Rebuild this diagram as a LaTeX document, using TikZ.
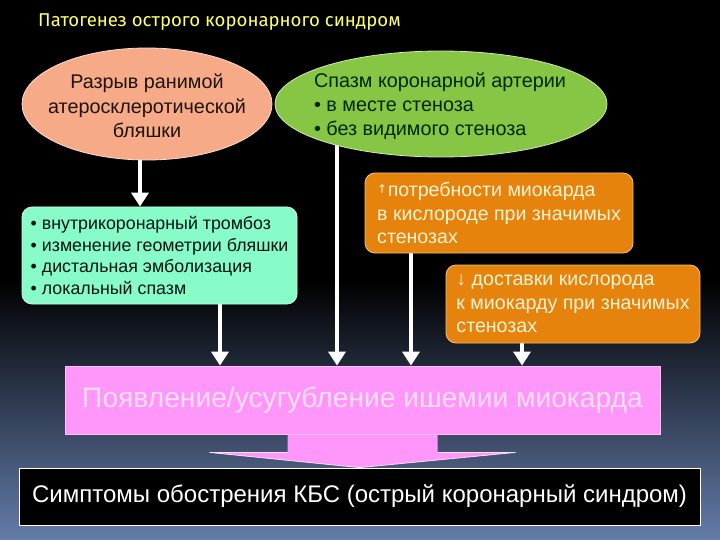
\documentclass[tikz,border=0pt]{standalone}
\usepackage{fontspec}
\setmainfont{Liberation Sans}
\newfontfamily\titlefont{Fira Sans}
\newfontfamily\arrfont{DejaVu Sans}
\usetikzlibrary{arrows.meta,shapes.geometric,calc}
\pgfdeclarelayer{back}
\pgfdeclarelayer{arrlayer}
\pgfsetlayers{back,arrlayer,main}
\definecolor{bgblue}{RGB}{100,124,170}
\definecolor{salmonc}{RGB}{246,170,135}
\definecolor{greenc}{RGB}{135,198,68}
\definecolor{tealc}{RGB}{135,252,200}
\definecolor{orangec}{RGB}{230,131,12}
\definecolor{pinkc}{RGB}{255,150,250}
\definecolor{pinktxt}{RGB}{255,222,255}
\definecolor{creamtxt}{RGB}{255,244,212}
\definecolor{titley}{RGB}{255,255,102}
\begin{document}
\begin{tikzpicture}[x=1pt,y=-1pt,
  ellbox/.style={ellipse,draw=white!60!#1,line width=0.8pt,fill=#1,inner sep=0pt},
  rbox/.style={rectangle,rounded corners=10pt,fill=#1,draw=white!50!#1,line width=0.8pt,inner xsep=3pt,inner ysep=2pt,align=left},
  arr/.style={draw=white,line width=4pt,-{Triangle[width=17pt,length=14pt]}},
  txt/.style={inner sep=0pt,align=#1}]
\useasboundingbox (0,0) rectangle (720,540);
\begin{pgfonlayer}{back}
  \fill[black] (0,0) rectangle (720,540);
  \shade[top color=black,bottom color=bgblue] (0,280) rectangle (720,540);
\end{pgfonlayer}

% title
\node[anchor=west,inner sep=0pt,text=titley,font=\titlefont\fontsize{18.6}{22}\selectfont] (title) at (38,22) {Патогенез острого коронарного синдром};

% ellipses
\node[ellbox=salmonc,minimum width=250pt,minimum height=112pt] (salmon) at (147,104) {};
\node[txt=center,text=black!85!brown,font=\fontsize{19.8}{24.5}\selectfont] (salmonT) at (147,106) {Разрыв ранимой\\атеросклеротической\\бляшки};

\node[ellbox=greenc,minimum width=332pt,minimum height=106pt] (green) at (441,104) {};
\node[txt=left,text=black!85!green,font=\fontsize{19.8}{24}\selectfont] (greenT) at (440,106) {Спазм коронарной артерии\\• в месте стеноза\\• без видимого стеноза};

% boxes
\node[rbox=tealc,minimum width=275pt,minimum height=97pt,text=black!85!teal,font=\fontsize{17.8}{21.7}\selectfont] (teal) at (159.5,255.5) {• внутрикоронарный тромбоз\\• изменение геометрии бляшки\\• дистальная эмболизация\\• локальный спазм};

\node[rbox=orangec,minimum width=268pt,minimum height=80pt,text=creamtxt,font=\fontsize{19.6}{23.5}\selectfont] (or1) at (499,213) {\raisebox{3pt}{\arrfont\fontsize{12}{12}\selectfont ↑}\kern0.5pt потребности миокарда\\в кислороде при значимых\\стенозах};

\node[rbox=orangec,minimum width=254pt,minimum height=78pt,text=creamtxt,font=\fontsize{19.6}{23.5}\selectfont] (or2) at (573,304) {↓ доставки кислорода\\к миокарду при значимых\\стенозах};

% pink box
\node[rectangle,fill=pinkc,draw=white!40!pinkc,line width=0.8pt,minimum width=595pt,minimum height=68pt,text=pinktxt,font=\fontsize{28.2}{30}\selectfont] (pink) at (362.5,400) {Появление/усугубление ишемии миокарда};

% black box
\node[rectangle,fill=black,draw=white,line width=0.8pt,minimum width=681pt,minimum height=57pt,text=white,font=\fontsize{24}{28}\selectfont] (acs) at (359.5,496.5) {Симптомы обострения КБС (острый коронарный синдром)};

% pink block arrow
\begin{pgfonlayer}{arrlayer}
\fill[pinkc] ($(pink.south)+(-75,-2)$) -- ($(pink.south)+(-75,18)$) -- ($(pink.south)+(-153,18)$)
  -- (acs.north) -- ($(pink.south)+(153,18)$) -- ($(pink.south)+(75,18)$) -- ($(pink.south)+(75,-2)$) -- cycle;
\draw[white!70!pinkc,line width=0.8pt] ($(pink.south)+(-75,18)$) -- ($(pink.south)+(-153,18)$) -- (acs.north) -- ($(pink.south)+(153,18)$) -- ($(pink.south)+(75,18)$);

% arrows
\draw[arr] ([xshift=-7pt]salmon.center) -- ([xshift=-7pt]salmon.center |- teal.north);
\draw[arr] ([xshift=60.5pt]teal.center) -- ([xshift=60.5pt]teal.center |- pink.north);
\draw[arr] ([xshift=-104pt]green.center) -- ([xshift=-104pt]green.center |- pink.north);
\draw[arr] ([xshift=-88pt]or1.center) -- ([xshift=-88pt]or1.center |- pink.north);
\draw[arr] ([xshift=-51pt]or2.center) -- ([xshift=-51pt]or2.center |- pink.north);
\end{pgfonlayer}
\end{tikzpicture}
\end{document}
